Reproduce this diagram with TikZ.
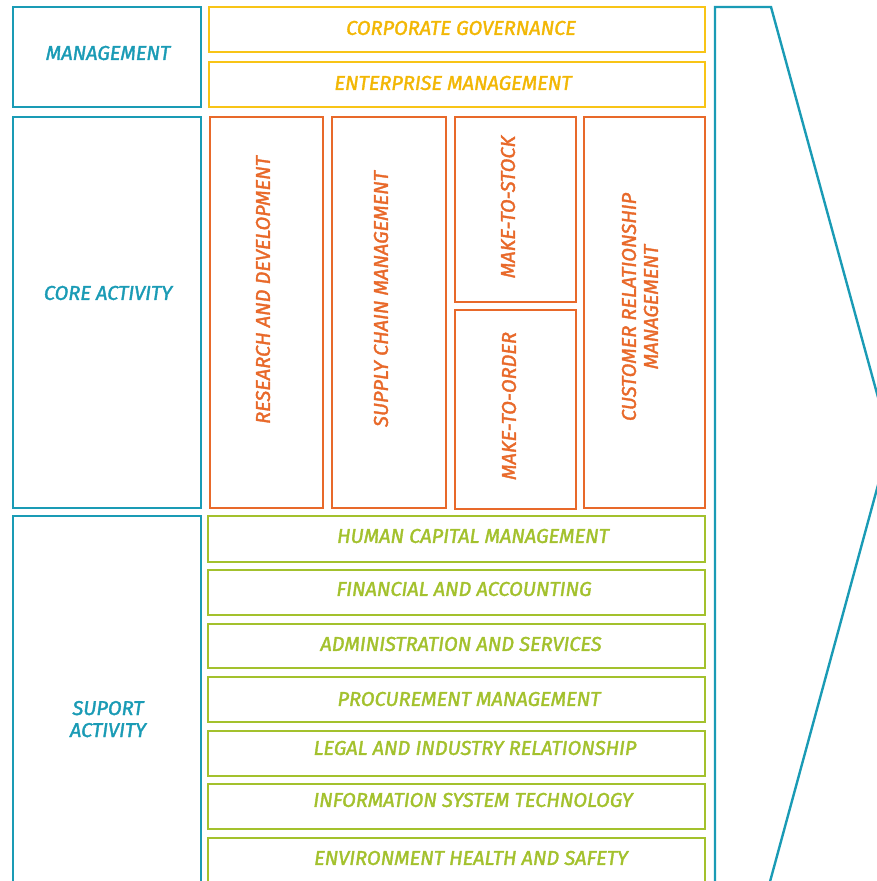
\documentclass[tikz,border=0pt]{standalone}
\usepackage{fontspec}
\setmainfont{Fira Sans}[ItalicFeatures={FakeBold=1.8}]
\definecolor{cteal}{HTML}{1A9BB5}
\definecolor{cyellow}{HTML}{F8C416}
\definecolor{cyeltext}{HTML}{F2B705}
\definecolor{corange}{HTML}{E8692A}
\definecolor{cgreen}{HTML}{A3C12D}
\begin{document}
\begin{tikzpicture}[x=1pt,y=-1pt,
  box/.style={draw=#1,line width=2.4pt,inner sep=0pt,fill=none},
  lbl/.style={text=#1,font=\fontsize{20}{23}\selectfont\itshape,inner sep=0pt,align=center},
]
\useasboundingbox (0,0) rectangle (877,881);
\clip (0,0) rectangle (877,881);
% left column
\node[box=cteal,minimum width=188,minimum height=100] (mg) at (107,57) {};
\node[box=cteal,minimum width=188,minimum height=391] (ca) at (107,312.5) {};
\node[box=cteal,minimum width=188,minimum height=400] (sa) at (107,716) {};
\node[lbl=cteal] (mgt) at (108,53) {MANAGEMENT};
\node[lbl=cteal] (cat) at (108,293) {CORE ACTIVITY};
\node[lbl=cteal,text depth=0pt] (sat) at (108,719) {SUPORT\\[-1pt]ACTIVITY};
% management
\node[box=cyellow,minimum width=496,minimum height=45] (cg) at (457,29.5) {};
\node[box=cyellow,minimum width=496,minimum height=45] (em) at (457,84.5) {};
\node[lbl=cyeltext] (cgt) at (461,28) {CORPORATE GOVERNANCE};
\node[lbl=cyeltext] (emt) at (453,83) {ENTERPRISE MANAGEMENT};
% core
\node[box=corange,minimum width=113,minimum height=391] (rd) at (266.5,312.5) {};
\node[box=corange,minimum width=114,minimum height=391] (scm) at (389,312.5) {};
\node[box=corange,minimum width=121,minimum height=185] (mts) at (515.5,209.5) {};
\node[box=corange,minimum width=121,minimum height=199] (mto) at (515.5,409.5) {};
\node[box=corange,minimum width=121,minimum height=391] (crm) at (644.5,312.5) {};
\node[lbl=corange,rotate=90] (rdt) at (263,290) {RESEARCH AND DEVELOPMENT};
\node[lbl=corange,rotate=90] (scmt) at (381,299) {SUPPLY CHAIN MANAGEMENT};
\node[lbl=corange,rotate=90] (mtst) at (508,207) {MAKE-TO-STOCK};
\node[lbl=corange,rotate=90] (mtot) at (509,406) {MAKE-TO-ORDER};
\node[lbl=corange,rotate=90] (crmt) at (640,307) {CUSTOMER RELATIONSHIP\\[-1pt]MANAGEMENT};
% support
\node[box=cgreen,minimum width=497,minimum height=46] (g1) at (456.5,539) {};
\node[box=cgreen,minimum width=497,minimum height=45] (g2) at (456.5,592.5) {};
\node[box=cgreen,minimum width=497,minimum height=44] (g3) at (456.5,646) {};
\node[box=cgreen,minimum width=497,minimum height=45] (g4) at (456.5,699.5) {};
\node[box=cgreen,minimum width=497,minimum height=45] (g5) at (456.5,753.5) {};
\node[box=cgreen,minimum width=497,minimum height=45] (g6) at (456.5,806.5) {};
\node[box=cgreen,minimum width=497,minimum height=60] (g7) at (456.5,868) {};
\node[lbl=cgreen] (g1t) at (473,536) {HUMAN CAPITAL MANAGEMENT};
\node[lbl=cgreen] (g2t) at (464,589) {FINANCIAL AND ACCOUNTING};
\node[lbl=cgreen] (g3t) at (461,644) {ADMINISTRATION AND SERVICES};
\node[lbl=cgreen] (g4t) at (469,699) {PROCUREMENT MANAGEMENT};
\node[lbl=cgreen] (g5t) at (475,748) {LEGAL AND INDUSTRY RELATIONSHIP};
\node[lbl=cgreen] (g6t) at (473,800) {INFORMATION SYSTEM TECHNOLOGY};
\node[lbl=cgreen] (g7t) at (471,858) {ENVIRONMENT HEALTH AND SAFETY};
% arrow
\coordinate (a1) at (715,900);
\coordinate (a2) at (715,7);
\coordinate (a3) at (771,7);
\coordinate (a4) at (890,441);
\coordinate (a5) at (765,900);
\draw[cteal,line width=2.4pt,line join=miter] (a1) -- (a2) -- (a3) -- (a4) -- (a5);
\end{tikzpicture}
\end{document}
